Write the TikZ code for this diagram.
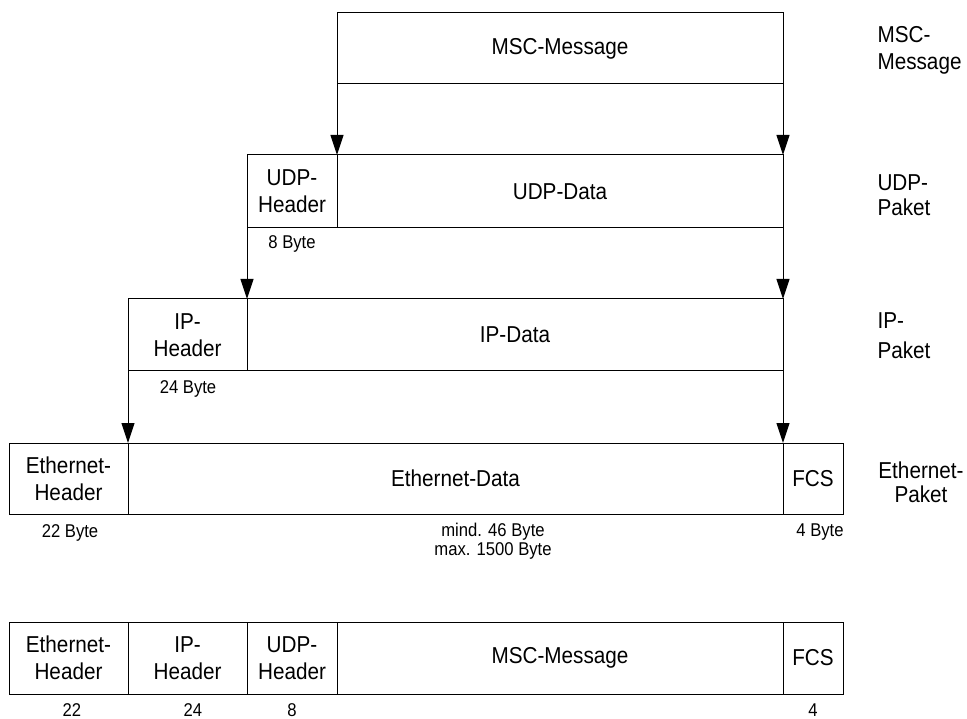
\documentclass[tikz,border=0pt]{standalone}
\usepackage{fontspec}
\setmainfont{Liberation Sans}[FakeStretch=0.9]
\usepackage{tikz}
\usetikzlibrary{arrows.meta,positioning}

\begin{document}
\begin{tikzpicture}[
  x=1pt, y=-1pt,
  >={Triangle[length=20pt,width=13pt]},
  every node/.style={font=\fontsize{23}{27}\selectfont},
  field/.style={rectangle, draw, line width=1pt, inner sep=0pt, outer sep=0pt,
    minimum height=72pt, align=center},
  size/.style={font=\fontsize{18.5}{19}\selectfont, align=center},
  count/.style={size, inner sep=0pt, anchor=base},
  layer/.style={align=left, anchor=west},
  pass/.style={->, line width=1pt},
]
\useasboundingbox (0,0) rectangle (967,719);

% Row 0: MSC message
\node[field, minimum width=446pt, minimum height=71pt] at (560,48.5) (msc) {MSC-Message};

% Row 1: UDP packet
\node[field, minimum width=90pt, minimum height=73pt] at (292,191.5) (udph) {UDP-\\Header};
\node[field, minimum width=446pt, minimum height=73pt] at (560,191.5) (udpd) {UDP-Data};

% Row 2: IP packet
\node[field, minimum width=119pt] at (187.5,335) (iph) {IP-\\Header};
\node[field, minimum width=536pt] at (515,335) (ipd) {IP-Data};

% Row 3: Ethernet packet
\node[field, minimum width=119pt, minimum height=71pt] at (68.5,478.5) (ethh) {Ethernet-\\Header};
\node[field, minimum width=655pt, minimum height=71pt] at (455.5,478.5) (ethd) {Ethernet-Data};
\node[field, minimum width=60pt, minimum height=71pt] at (813,478.5) (fcs) {FCS};

% Row 4: complete frame
\node[field, minimum width=119pt] at (68.5,658) (fethh) {Ethernet-\\Header};
\node[field, minimum width=119pt] at (187.5,658) (fiph) {IP-\\Header};
\node[field, minimum width=90pt] at (292,658) (fudph) {UDP-\\Header};
\node[field, minimum width=446pt] at (560,658) (fmsc) {MSC-Message};
\node[field, minimum width=60pt] at (813,658) (ffcs) {FCS};

% Encapsulation arrows
\draw[pass] (msc.south west) -- (udpd.north west);
\draw[pass] (msc.south east) -- (udpd.north east);
\draw[pass] (udph.south west) -- (ipd.north west);
\draw[pass] (udpd.south east) -- (ipd.north east);
\draw[pass] (iph.south west) -- (ethd.north west);
\draw[pass] (ipd.south east) -- (ethd.north east);

% Sizes
\node[size] at (292,244) (udpsz) {8 Byte};
\node[size] at (188,389) (ipsz) {24 Byte};
\node[size] at (70,533) (ethsz) {22 Byte};
\node[size, font=\fontsize{18.5}{18.5}\selectfont] at (493,541) (datasz) {mind. 46 Byte\\max. 1500 Byte};
\node[size] at (820,532) (fcssz) {4 Byte};
\node[count] at (72,716) (fethsz) {22};
\node[count] at (193,716) (fipsz) {24};
\node[count] at (292,716) (fudpsz) {8};
\node[count] at (813,716) (ffcssz) {4};

% Layer labels
\node[layer] at (874,50) (msclbl) {MSC-\\Message};
\node[layer, font=\fontsize{23}{25}\selectfont] at (874,195) (udplbl) {UDP-\\Paket};
\node[layer, font=\fontsize{23}{30}\selectfont] at (874,336) (iplbl) {IP-\\Paket};
\node[align=center, font=\fontsize{23}{24}\selectfont] at (921,482) (ethlbl) {Ethernet-\\Paket};

\end{tikzpicture}
\end{document}
